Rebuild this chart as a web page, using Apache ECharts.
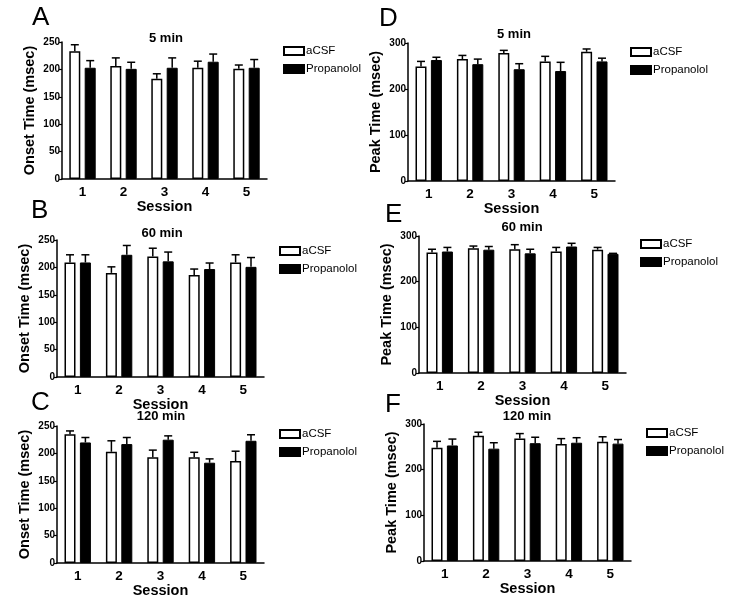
<!DOCTYPE html>
<html>
<head>
<meta charset="utf-8">
<script src="https://cdn.jsdelivr.net/npm/echarts@6/dist/echarts.min.js"></script>
<style>html,body{margin:0;padding:0;background:#fff}#c{width:734px;height:609px}</style>
</head>
<body>
<div id="c"></div>
<script>
// ---- data ----
const sessions = ['1', '2', '3', '4', '5'];
const seriesNames = ['aCSF', 'Propanolol'];

// Panel A: Onset Time, 5 min
const A_aCSF = [233, 206, 183, 203, 201];
const A_aCSF_err = [12, 15, 9, 12, 7];
const A_prop = [203, 201, 203, 214, 203];
const A_prop_err = [13, 12, 18, 14, 15];
// Panel B: Onset Time, 60 min
const B_aCSF = [209, 190, 220, 186, 209];
const B_aCSF_err = [14, 11, 15, 11, 14];
const B_prop = [209, 223, 211, 197, 201];
const B_prop_err = [14, 17, 17, 11, 17];
// Panel C: Onset Time, 120 min
const C_aCSF = [235, 203, 193, 193, 186];
const C_aCSF_err = [6, 20, 13, 9, 18];
const C_prop = [220, 217, 225, 183, 223];
const C_prop_err = [9, 12, 7, 7, 11];
// Panel D: Peak Time, 5 min
const D_aCSF = [249, 265, 278, 260, 281];
const D_aCSF_err = [11, 8, 6, 11, 6];
const D_prop = [263, 254, 243, 239, 260];
const D_prop_err = [6, 11, 12, 19, 7];
// Panel E: Peak Time, 60 min
const E_aCSF = [264, 273, 271, 266, 270];
const E_aCSF_err = [7, 5, 10, 9, 5];
const E_prop = [266, 270, 262, 277, 261];
const E_prop_err = [9, 7, 9, 7, 1];
// Panel F: Peak Time, 120 min
const F_aCSF = [248, 274, 268, 256, 261];
const F_aCSF_err = [14, 8, 11, 12, 11];
const F_prop = [253, 246, 258, 259, 257];
const F_prop_err = [14, 13, 13, 11, 9];

const onsetTicks = { max: 250, interval: 50 };
const peakTicks = { max: 300, interval: 100 };

// ---- layout ----
const FONT = "'Liberation Sans', Arial, sans-serif";
const panels = [
  { letter: 'A', title: '5 min', yName: 'Onset Time (msec)', ticks: onsetTicks, a: A_aCSF, ae: A_aCSF_err, p: A_prop, pe: A_prop_err,
    grid: { left: 62, top: 42, width: 205, height: 137 }, titlePos: [166, 32], legendPos: [283, 45], letterPos: [32, 5] },
  { letter: 'B', title: '60 min', yName: 'Onset Time (msec)', ticks: onsetTicks, a: B_aCSF, ae: B_aCSF_err, p: B_prop, pe: B_prop_err,
    grid: { left: 57, top: 240, width: 207, height: 137 }, titlePos: [162, 227], legendPos: [279, 245], letterPos: [31, 198] },
  { letter: 'C', title: '120 min', yName: 'Onset Time (msec)', ticks: onsetTicks, a: C_aCSF, ae: C_aCSF_err, p: C_prop, pe: C_prop_err,
    grid: { left: 57, top: 426, width: 207, height: 137 }, titlePos: [161, 410], legendPos: [279, 428], letterPos: [31, 390] },
  { letter: 'D', title: '5 min', yName: 'Peak Time (msec)', ticks: peakTicks, a: D_aCSF, ae: D_aCSF_err, p: D_prop, pe: D_prop_err,
    grid: { left: 408, top: 43, width: 207, height: 138 }, titlePos: [514, 28], legendPos: [630, 46], letterPos: [379, 6] },
  { letter: 'E', title: '60 min', yName: 'Peak Time (msec)', ticks: peakTicks, a: E_aCSF, ae: E_aCSF_err, p: E_prop, pe: E_prop_err,
    grid: { left: 419, top: 236, width: 207, height: 137 }, titlePos: [522, 221], legendPos: [640, 238], letterPos: [385, 202] },
  { letter: 'F', title: '120 min', yName: 'Peak Time (msec)', ticks: peakTicks, a: F_aCSF, ae: F_aCSF_err, p: F_prop, pe: F_prop_err,
    grid: { left: 424, top: 424, width: 207, height: 137 }, titlePos: [527, 410], legendPos: [646, 427], letterPos: [385, 392] }
];

const BAR_W = 11;
const BAR_GAP = 0.4; // fraction of bar width
const OFFSET = (BAR_W + BAR_W * BAR_GAP) / 2;

function errRender(offset) {
  return function (params, api) {
    const i = api.value(0), v = api.value(1), e = api.value(2);
    const p0 = api.coord([i, v]);
    const p1 = api.coord([i, v + e]);
    const cx = p0[0] + offset;
    const st = { stroke: '#000', lineWidth: 1.5 };
    return {
      type: 'group',
      children: [
        { type: 'line', shape: { x1: cx, y1: p0[1], x2: cx, y2: p1[1] }, style: st },
        { type: 'line', shape: { x1: cx - 4, y1: p1[1], x2: cx + 4, y2: p1[1] }, style: st }
      ]
    };
  };
}

const grids = [], xAxes = [], yAxes = [], series = [], titles = [], legends = [], graphics = [];
panels.forEach((pn, k) => {
  grids.push(pn.grid);
  xAxes.push({
    type: 'category', gridIndex: k, data: sessions,
    name: 'Session', nameLocation: 'middle', nameGap: 19,
    nameTextStyle: { fontFamily: FONT, fontWeight: 'bold', fontSize: 14.5, color: '#000' },
    axisLine: { lineStyle: { color: '#000', width: 1.5 } },
    axisTick: { alignWithLabel: true, length: 3, lineStyle: { color: '#000', width: 1.2 } },
    axisLabel: { fontFamily: FONT, fontWeight: 'bold', fontSize: 13.5, color: '#000', margin: 6 },
    splitLine: { show: false }
  });
  yAxes.push({
    type: 'value', gridIndex: k, min: 0, max: pn.ticks.max, interval: pn.ticks.interval,
    name: pn.yName, nameLocation: 'middle', nameGap: 25,
    nameTextStyle: { fontFamily: FONT, fontWeight: 'bold', fontSize: 14.5, color: '#000' },
    axisLine: { show: true, lineStyle: { color: '#000', width: 1.5 } },
    axisTick: { show: true, length: 3, lineStyle: { color: '#000', width: 1.2 } },
    axisLabel: { fontFamily: FONT, fontWeight: 'bold', fontSize: 10, color: '#000', margin: 2 },
    splitLine: { show: false }
  });
  series.push({
    name: 'aCSF', type: 'bar', xAxisIndex: k, yAxisIndex: k, data: pn.a,
    barWidth: BAR_W, barGap: (BAR_GAP * 100) + '%',
    itemStyle: { color: '#fff', borderColor: '#000', borderWidth: 1.5 }, silent: true
  });
  series.push({
    name: 'Propanolol', type: 'bar', xAxisIndex: k, yAxisIndex: k, data: pn.p,
    barWidth: BAR_W, barGap: (BAR_GAP * 100) + '%',
    itemStyle: { color: '#000', borderColor: '#000', borderWidth: 1 }, silent: true
  });
  series.push({
    name: 'aCSF', type: 'custom', xAxisIndex: k, yAxisIndex: k, renderItem: errRender(-OFFSET),
    data: pn.a.map((v, j) => [j, v, pn.ae[j]]), z: 3, silent: true
  });
  series.push({
    name: 'Propanolol', type: 'custom', xAxisIndex: k, yAxisIndex: k, renderItem: errRender(OFFSET),
    data: pn.p.map((v, j) => [j, v, pn.pe[j]]), z: 3, silent: true
  });
  titles.push({
    text: pn.title, left: pn.titlePos[0], top: pn.titlePos[1], textAlign: 'center', padding: 0,
    textStyle: { fontFamily: FONT, fontWeight: 'bold', fontSize: 13, color: '#000' }
  });
  legends.push({
    data: seriesNames, orient: 'vertical', left: pn.legendPos[0], top: pn.legendPos[1],
    itemWidth: 20, itemHeight: 8, itemGap: 6, icon: 'rect', padding: 0,
    selectedMode: false,
    textStyle: { fontFamily: FONT, fontSize: 11.5, color: '#000', padding: [0, 0, 0, -3] }
  });
  graphics.push({
    type: 'text', left: pn.letterPos[0], top: pn.letterPos[1],
    style: { text: pn.letter, font: '26px ' + FONT, fill: '#000' }
  });
});

const chart = echarts.init(document.getElementById('c'), null, { renderer: 'canvas' });
chart.setOption({
  backgroundColor: '#fff',
  animation: false,
  title: titles,
  legend: legends,
  grid: grids,
  xAxis: xAxes,
  yAxis: yAxes,
  series: series,
  graphic: graphics
});
</script>
</body>
</html>
